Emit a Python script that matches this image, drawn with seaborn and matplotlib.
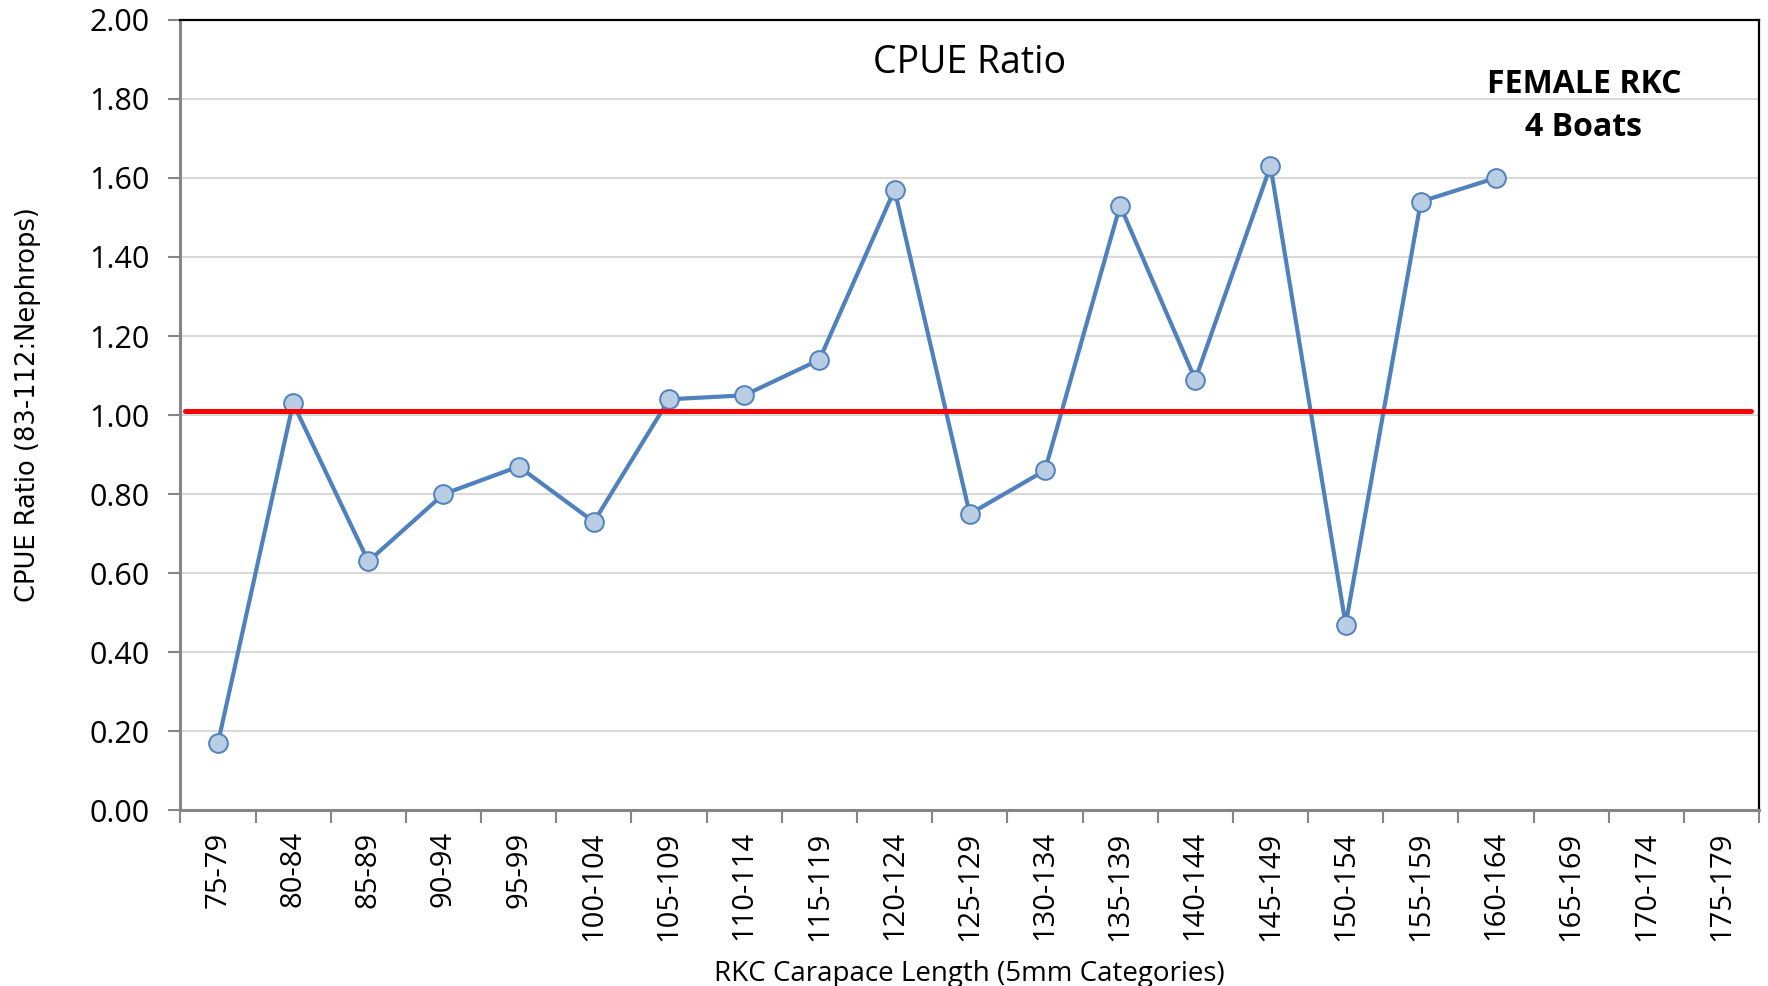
import numpy as np
import pandas as pd
import matplotlib
matplotlib.use("Agg")
import matplotlib.pyplot as plt
import matplotlib.ticker as mticker
import seaborn as sns

# ── Data ─────────────────────────────────────────────────────────────
SIZE_CLASSES = [
    "75-79", "80-84", "85-89", "90-94", "95-99", "100-104", "105-109",
    "110-114", "115-119", "120-124", "125-129", "130-134", "135-139",
    "140-144", "145-149", "150-154", "155-159", "160-164", "165-169",
    "170-174", "175-179",
]
CPUE_RATIO = [
    0.17, 1.03, 0.63, 0.80, 0.87, 0.73, 1.04,
    1.05, 1.14, 1.57, 0.75, 0.86, 1.53,
    1.09, 1.63, 0.47, 1.54, 1.60, np.nan,
    np.nan, np.nan,
]
REF_LEVEL = 1.01
Y_TICKS = [0.0, 0.2, 0.4, 0.6, 0.8, 1.0, 1.2, 1.4, 1.6, 1.8, 2.0]

LINE_COLOR = "#4F81BD"
FILL_COLOR = "#B9CDE5"
FONT = ["Open Sans", "DejaVu Sans"]

# ── Plot ─────────────────────────────────────────────────────────────
sns.set_style("white")
plt.rcParams["font.family"] = FONT
plt.rcParams["text.color"] = "black"
plt.rcParams["axes.labelcolor"] = "black"
plt.rcParams["xtick.labelcolor"] = "black"
plt.rcParams["ytick.labelcolor"] = "black"

df = pd.DataFrame({"size_class": SIZE_CLASSES, "ratio": CPUE_RATIO})
df["pos"] = np.arange(len(df))

fig, ax = plt.subplots(figsize=(17.68, 9.86), dpi=100)
fig.subplots_adjust(left=0.102, right=0.995, top=0.980, bottom=0.178)

ax.yaxis.grid(True, color="#D9D9D9", linewidth=1.5)
ax.set_axisbelow(True)

sns.lineplot(data=df, x="pos", y="ratio", ax=ax, color=LINE_COLOR,
             linewidth=3.0, marker="o", markersize=13.5,
             markerfacecolor=FILL_COLOR, markeredgecolor=LINE_COLOR,
             markeredgewidth=1.4, zorder=3)

ax.axhline(REF_LEVEL, xmin=0.003, xmax=0.995, color="#FF0000",
           linewidth=3.6, zorder=4)

ax.set_xlim(-0.5, len(SIZE_CLASSES) - 0.5)
ax.set_ylim(0, 2.0)
ax.set_yticks(Y_TICKS)
ax.yaxis.set_major_formatter(mticker.FormatStrFormatter("%.2f"))
ax.set_xticks(df["pos"])
ax.set_xticklabels(SIZE_CLASSES, rotation=90, fontsize=21)
ax.set_xticks(np.arange(len(SIZE_CLASSES) + 1) - 0.5, minor=True)
ax.tick_params(axis="x", which="major", length=0, pad=15)
ax.tick_params(axis="x", which="minor", length=9, width=1.5,
               color="#868686", direction="out", bottom=True)
ax.tick_params(axis="y", length=9, width=1.5, color="#868686",
               direction="out", left=True, labelsize=22, pad=13)

for side in ("left", "bottom"):
    ax.spines[side].set_color("#868686")
    ax.spines[side].set_linewidth(2.2)
for side in ("top", "right"):
    ax.spines[side].set_color("#000000")
    ax.spines[side].set_linewidth(1.6)

ax.set_xlabel("RKC Carapace Length (5mm Categories)", fontsize=20,
              labelpad=14)
ax.set_ylabel("CPUE Ratio (83-112:Nephrops)", fontsize=18.5,
              family=["DejaVu Sans"])
ax.yaxis.set_label_coords(-0.088, 0.513)

ax.text(0.5, 0.945, "CPUE Ratio", transform=ax.transAxes, ha="center",
        va="center", fontsize=27)
ax.text(0.889, 0.891, "FEMALE RKC\n4 Boats", transform=ax.transAxes,
        ha="center", va="center", fontsize=23, fontweight="bold",
        linespacing=1.4)

fig.savefig("out.png", dpi=100, facecolor="white")
